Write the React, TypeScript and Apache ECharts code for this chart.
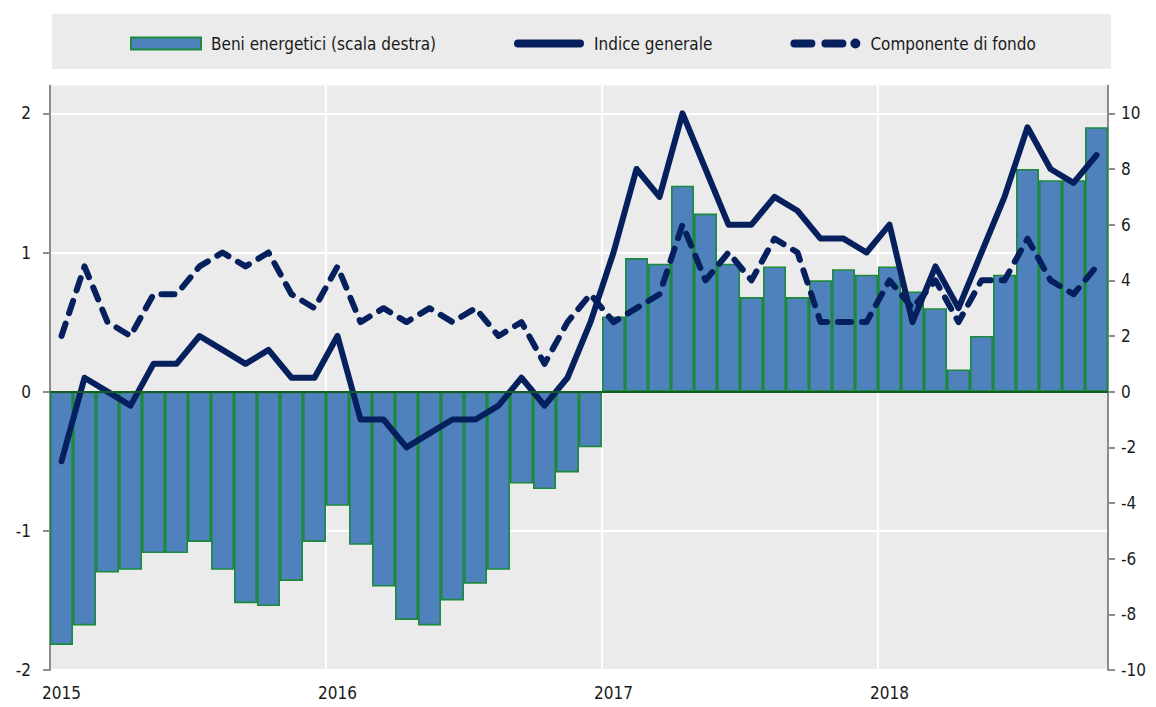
import React, { useEffect, useRef } from "react";
import * as echarts from "echarts";

const years = ["2015", "2016", "2017", "2018"];
const months = ["01", "02", "03", "04", "05", "06", "07", "08", "09", "10", "11", "12"];
const lastMonthIndex2018 = 10;

const categories: string[] = [];
years.forEach((y, yi) => {
  const n = yi === years.length - 1 ? lastMonthIndex2018 : 12;
  for (let m = 0; m < n; m++) categories.push(`${y}-${months[m]}`);
});

// Beni energetici (scala destra), %
const energetici = [
  -9.1, -8.4, -6.5, -6.4, -5.8, -5.8, -5.4, -6.4, -7.6, -7.7, -6.8, -5.4,
  -4.1, -5.5, -7.0, -8.2, -8.4, -7.5, -6.9, -6.4, -3.3, -3.5, -2.9, -2.0,
  2.7, 4.8, 4.6, 7.4, 6.4, 4.6, 3.4, 4.5, 3.4, 4.0, 4.4, 4.2,
  4.5, 3.6, 3.0, 0.8, 2.0, 4.2, 8.0, 7.6, 7.6, 9.5,
];

// Indice generale, %
const indiceGenerale = [
  -0.5, 0.1, 0.0, -0.1, 0.2, 0.2, 0.4, 0.3, 0.2, 0.3, 0.1, 0.1,
  0.4, -0.2, -0.2, -0.4, -0.3, -0.2, -0.2, -0.1, 0.1, -0.1, 0.1, 0.5,
  1.0, 1.6, 1.4, 2.0, 1.6, 1.2, 1.2, 1.4, 1.3, 1.1, 1.1, 1.0,
  1.2, 0.5, 0.9, 0.6, 1.0, 1.4, 1.9, 1.6, 1.5, 1.7,
];

// Componente di fondo, %
const componenteFondo = [
  0.4, 0.9, 0.5, 0.4, 0.7, 0.7, 0.9, 1.0, 0.9, 1.0, 0.7, 0.6,
  0.9, 0.5, 0.6, 0.5, 0.6, 0.5, 0.6, 0.4, 0.5, 0.2, 0.5, 0.7,
  0.5, 0.6, 0.7, 1.2, 0.8, 1.0, 0.8, 1.1, 1.0, 0.5, 0.5, 0.5,
  0.8, 0.6, 0.8, 0.5, 0.8, 0.8, 1.1, 0.8, 0.7, 0.9,
];

const leftTicks = [-2, -1, 0, 1, 2];
const rightTicks = [-10, -8, -6, -4, -2, 0, 2, 4, 6, 8, 10];

const FONT = '"DejaVu Sans Condensed", "DejaVu Sans", sans-serif';
const NAVY = "#06205e";
const BAR_FILL = "#4f81bd";
const BAR_BORDER = "#1b8a3a";
const ZERO_LINE = "#145c2a";
const BG = "#ebebeb";
const AXIS_GRAY = "#8c8c8c";
const TEXT = "#1a1a1a";

// legend icon shapes (70 x 12 box)
const ICON_BAR = "path://M0,0 L70,0 L70,12 L0,12 Z";
const ICON_SOLID =
  "path://M4,2 L66,2 A4,4 0 0 1 66,10 L4,10 A4,4 0 0 1 4,2 Z M0,0 L0,0.01 Z M70,12 L70,11.99 Z";
const ICON_DASHED =
  "path://M4,2 L21,2 A4,4 0 0 1 21,10 L4,10 A4,4 0 0 1 4,2 Z M35,2 L52,2 A4,4 0 0 1 52,10 L35,10 A4,4 0 0 1 35,2 Z M65,1 A5,5 0 0 1 65,11 A5,5 0 0 1 65,1 Z M0,0 L0,0.01 Z M70,12 L70,11.99 Z";

export default function App() {
  const ref = useRef<HTMLDivElement>(null);

  useEffect(() => {
    if (!ref.current) return;
    const chart = echarts.init(ref.current, undefined, { renderer: "svg" });
    const yearTick = (i: number) => i % 12 === 0;
    chart.setOption({
      animation: false,
      textStyle: { fontFamily: FONT },
      graphic: [
        {
          type: "rect",
          z: -10,
          shape: { x: 52, y: 14, width: 1059, height: 55 },
          style: { fill: BG },
          silent: true,
        },
      ],
      legend: {
        top: 35,
        left: 130,
        padding: 0,
        itemWidth: 70,
        itemHeight: 12,
        itemGap: 78,
        textStyle: { fontFamily: FONT, fontSize: 17, color: TEXT, padding: [0, 0, 0, 5] },
        data: [
          {
            name: "Beni energetici (scala destra)",
            icon: ICON_BAR,
            itemStyle: { color: BAR_FILL, borderColor: BAR_BORDER, borderWidth: 2 },
          },
          {
            name: "Indice generale",
            icon: ICON_SOLID,
            itemStyle: { color: NAVY, borderWidth: 0 },
            lineStyle: { width: 0 },
          },
          {
            name: "Componente di fondo",
            icon: ICON_DASHED,
            itemStyle: { color: NAVY, borderWidth: 0 },
            lineStyle: { width: 0 },
          },
        ],
      },
      grid: {
        left: 50,
        right: 48,
        top: 85.5,
        bottom: 37,
        show: true,
        backgroundColor: BG,
        borderWidth: 0,
      },
      xAxis: {
        type: "category",
        data: categories,
        boundaryGap: true,
        axisLine: { show: false, onZero: false },
        axisTick: { show: false },
        axisLabel: {
          interval: yearTick,
          formatter: (v: string) => v.slice(0, 4),
          fontFamily: FONT,
          fontSize: 17,
          color: TEXT,
          margin: 14,
        },
        splitLine: { show: true, interval: yearTick, lineStyle: { color: "#ffffff", width: 2 } },
      },
      yAxis: [
        {
          type: "value",
          min: -2,
          max: 2.2,
          interval: 1,
          position: "left",
          axisLine: { show: true, lineStyle: { color: AXIS_GRAY, width: 2 } },
          axisTick: { show: true, length: 7, customValues: leftTicks, lineStyle: { color: AXIS_GRAY, width: 2 } },
          axisLabel: { customValues: leftTicks, fontFamily: FONT, fontSize: 17, color: TEXT, margin: 19 },
          splitLine: { show: true, lineStyle: { color: "#ffffff", width: 2 } },
        },
        {
          type: "value",
          min: -10,
          max: 11,
          interval: 2,
          position: "right",
          axisLine: { show: true, lineStyle: { color: AXIS_GRAY, width: 2 } },
          axisTick: { show: true, length: 7, customValues: rightTicks, lineStyle: { color: AXIS_GRAY, width: 2 } },
          axisLabel: { customValues: rightTicks, fontFamily: FONT, fontSize: 17, color: TEXT, margin: 13 },
          splitLine: { show: false },
        },
      ],
      series: [
        {
          name: "Beni energetici (scala destra)",
          type: "bar",
          yAxisIndex: 1,
          data: energetici,
          barCategoryGap: "0%",
          itemStyle: { color: BAR_FILL, borderColor: BAR_BORDER, borderWidth: 1.6 },
          z: 2,
          markLine: {
            silent: true,
            symbol: ["none", "none"],
            label: { show: false },
            lineStyle: { color: ZERO_LINE, width: 2, type: "solid" },
            data: [{ yAxis: 0 }],
          },
        },
        {
          name: "Indice generale",
          type: "line",
          yAxisIndex: 0,
          data: indiceGenerale,
          symbol: "none",
          showSymbol: false,
          z: 4,
          itemStyle: { color: NAVY },
          lineStyle: { color: NAVY, width: 6, cap: "round", join: "round" },
        },
        {
          name: "Componente di fondo",
          type: "line",
          yAxisIndex: 0,
          data: componenteFondo,
          symbol: "none",
          showSymbol: false,
          z: 4,
          itemStyle: { color: NAVY },
          lineStyle: { color: NAVY, width: 6, type: [13, 11], cap: "round", join: "round" },
        },
      ],
    });
    return () => chart.dispose();
  }, []);

  return (
    <div
      ref={ref}
      style={{ position: "fixed", left: 0, top: 0, width: 1156, height: 707, background: "#ffffff" }}
    />
  );
}
